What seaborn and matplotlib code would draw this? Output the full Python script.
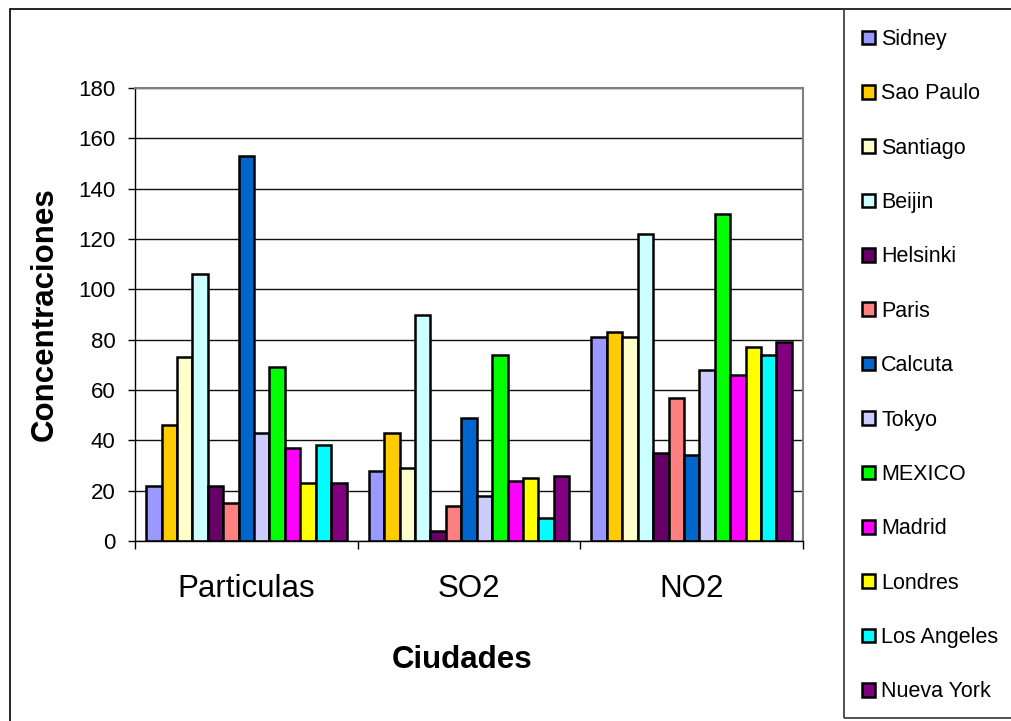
import matplotlib
matplotlib.use("Agg")
import matplotlib.pyplot as plt
import seaborn as sns
import pandas as pd
from matplotlib.patches import Rectangle, Patch

categories = ["Particulas", "SO2", "NO2"]
cities = ["Sidney", "Sao Paulo", "Santiago", "Beijin", "Helsinki", "Paris", "Calcuta",
          "Tokyo", "MEXICO", "Madrid", "Londres", "Los Angeles", "Nueva York"]
particulas = [22, 46, 73, 106, 22, 15, 153, 43, 69, 37, 23, 38, 23]
so2 = [28, 43, 29, 90, 4, 14, 49, 18, 74, 24, 25, 9, 26]
no2 = [81, 83, 81, 122, 35, 57, 34, 68, 130, 66, 77, 74, 79]
colors = ["#9999FF", "#FFCC00", "#FFFFCC", "#CCFFFF", "#660066", "#FF8080", "#0066CC",
          "#CCCCFF", "#00FF00", "#FF00FF", "#FFFF00", "#00FFFF", "#800080"]
yticks = [0, 20, 40, 60, 80, 100, 120, 140, 160, 180]

rows = []
for cat, vals in zip(categories, [particulas, so2, no2]):
    for city, v in zip(cities, vals):
        rows.append({"Ciudades": cat, "Ciudad": city, "Valor": v})
df = pd.DataFrame(rows)

sns.set_style("white")
plt.rcParams['font.family'] = ['Liberation Sans', 'DejaVu Sans']
plt.rcParams['text.color'] = 'black'
plt.rcParams['axes.labelcolor'] = 'black'
plt.rcParams['xtick.color'] = 'black'
plt.rcParams['ytick.color'] = 'black'

W, H = 1011, 721
fig = plt.figure(figsize=(W / 100, H / 100), dpi=100)
ax = fig.add_axes([135 / W, 1 - 541 / H, (803 - 135) / W, (541 - 88) / H])

sns.barplot(data=df, x="Ciudades", y="Valor", hue="Ciudad", hue_order=cities,
            order=categories, palette=colors, width=0.9, gap=0, dodge=True,
            edgecolor="black", linewidth=1.8, errorbar=None, legend=False, ax=ax,
            saturation=1)

ax.set_ylim(0, 180)
ax.set_xlim(-0.5, 2.5)
ax.set_yticks(yticks)
ax.yaxis.grid(True, color="#111111", linewidth=1.0)
ax.set_axisbelow(True)
ax.tick_params(axis="y", which="major", direction="out", length=5, width=1,
               color="black", labelcolor="black", labelsize=16, pad=9, left=True)
ax.set_xticks(range(len(categories)))
ax.set_xticklabels(categories)
ax.set_xticks([-0.5, 0.5, 1.5, 2.5], minor=True)
ax.tick_params(axis="x", which="major", length=0, labelsize=22.5, pad=24, labelcolor="black")
ax.tick_params(axis="x", which="minor", direction="out", length=6, width=1,
               color="black", bottom=True)

for s in ["top", "right"]:
    ax.spines[s].set_visible(True)
    ax.spines[s].set_color("#808080")
    ax.spines[s].set_linewidth(1.5)
for s in ["left", "bottom"]:
    ax.spines[s].set_color("black")
    ax.spines[s].set_linewidth(1.0)

ax.set_ylabel("Concentraciones", fontsize=22.5, fontweight="bold", color="black")
ax.yaxis.set_label_coords((45 - 135) / 668, 0.5)
ax.set_xlabel("Ciudades", fontsize=22.5, fontweight="bold", color="black")
ax.xaxis.set_label_coords((462 - 135) / 668, (541 - 660) / 453)
ax.xaxis.label.set_va("center")
ax.yaxis.label.set_va("center")

# outer chart frame and legend box
fig.patches.append(Rectangle((10 / W, -0.01), 1.0, 1 - 9 / H + 0.01, transform=fig.transFigure,
                             fill=False, edgecolor="black", linewidth=1.2))
fig.patches.append(Rectangle((844 / W, 1 - 718 / H), 1.0, (718 - 9) / H, transform=fig.transFigure,
                             fill=False, edgecolor="#333333", linewidth=1.2))

handles = [Patch(facecolor=c, edgecolor="black", linewidth=1.8) for c in colors]
fig.legend(handles, cities, loc="upper left", bbox_to_anchor=(862 / W, 1 - 29 / H),
           frameon=False, fontsize=15.5, handlelength=0.6, handleheight=0.6,
           handletextpad=0.3, labelspacing=1.55, borderaxespad=0, borderpad=0,
           labelcolor="black")

fig.savefig("out.png", dpi=100)
